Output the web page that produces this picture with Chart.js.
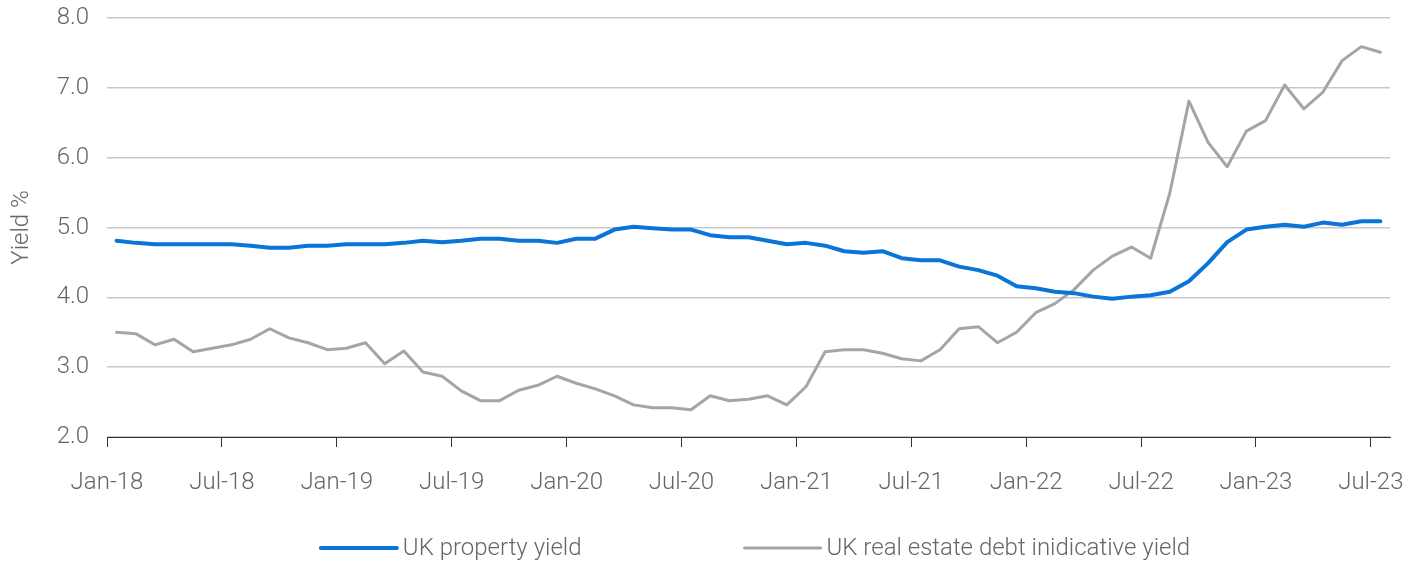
<!DOCTYPE html>
<html>
<head>
<meta charset="utf-8">
<script src="https://cdn.jsdelivr.net/npm/chart.js@4"></script>
<style>
  html, body { margin: 0; padding: 0; background: #fff; }
  #wrap { width: 1419px; height: 563px; }
</style>
</head>
<body>
<div id="wrap"><canvas id="c" width="1419" height="563"></canvas></div>
<script>
// Monthly observations, Jan-18 .. Jul-23
const months = [];
const monNames = ['Jan','Feb','Mar','Apr','May','Jun','Jul','Aug','Sep','Oct','Nov','Dec'];
for (let y = 18; y <= 23; y++) {
  for (let m = 0; m < 12; m++) {
    if (y === 23 && m > 6) break;
    months.push(monNames[m] + '-' + y);
  }
}

const propertyYield = [
  4.81, 4.78, 4.76, 4.76, 4.76, 4.76, 4.76, 4.74, 4.71, 4.71, 4.74, 4.74,
  4.76, 4.76, 4.76, 4.78, 4.81, 4.79, 4.81, 4.84, 4.84, 4.81, 4.81, 4.78,
  4.84, 4.84, 4.97, 5.01, 4.99, 4.97, 4.97, 4.89, 4.86, 4.86, 4.81, 4.76,
  4.78, 4.74, 4.66, 4.64, 4.66, 4.56, 4.53, 4.53, 4.44, 4.39, 4.31, 4.16,
  4.13, 4.08, 4.06, 4.01, 3.98, 4.01, 4.03, 4.08, 4.23, 4.49, 4.79, 4.97,
  5.01, 5.04, 5.01, 5.07, 5.04, 5.09, 5.09
];

const debtYield = [
  3.50, 3.48, 3.32, 3.40, 3.22, 3.27, 3.32, 3.40, 3.55, 3.42, 3.35, 3.25,
  3.27, 3.35, 3.05, 3.23, 2.93, 2.87, 2.66, 2.52, 2.52, 2.67, 2.74, 2.87,
  2.77, 2.69, 2.59, 2.46, 2.42, 2.42, 2.39, 2.59, 2.52, 2.54, 2.59, 2.46,
  2.72, 3.22, 3.25, 3.25, 3.20, 3.12, 3.09, 3.25, 3.55, 3.58, 3.35, 3.50,
  3.78, 3.91, 4.11, 4.39, 4.59, 4.72, 4.56, 5.49, 6.81, 6.22, 5.87, 6.38,
  6.53, 7.04, 6.70, 6.94, 7.39, 7.59, 7.51
];

const xTickLabels = ['Jan-18','Jul-18','Jan-19','Jul-19','Jan-20','Jul-20',
                     'Jan-21','Jul-21','Jan-22','Jul-22','Jan-23','Jul-23'];
const seriesNames = ['UK property yield', 'UK real estate debt inidicative yield'];

const FONT = 'Roboto, "Noto Sans", sans-serif';
const TEXT = '#666666';
const FSIZE = 24;

// Legend drawn beneath the axis, with a wide gap between entries
const bottomLegend = {
  id: 'bottomLegend',
  afterDraw(chart) {
    const ctx = chart.ctx;
    const ds = chart.data.datasets;
    const box = 76, gap = 6, itemGap = 163, y = 548;
    ctx.save();
    ctx.font = '300 ' + FSIZE + 'px ' + FONT;
    ctx.textBaseline = 'middle';
    const widths = ds.map(d => box + gap + ctx.measureText(d.label).width);
    const total = widths.reduce((a, b) => a + b, 0) + itemGap * (ds.length - 1);
    const ca = chart.chartArea;
    let x = (ca.left + ca.right) / 2 + 7 - total / 2;
    ds.forEach((d, i) => {
      ctx.strokeStyle = d.borderColor;
      ctx.lineWidth = d.borderWidth;
      ctx.lineCap = 'round';
      ctx.beginPath();
      ctx.moveTo(x, y);
      ctx.lineTo(x + box, y);
      ctx.stroke();
      ctx.fillStyle = TEXT;
      ctx.fillText(d.label, x + box + gap, y + 1);
      x += widths[i] + itemGap;
    });
    ctx.restore();
  }
};

new Chart(document.getElementById('c'), {
  type: 'line',
  data: {
    datasets: [
      {
        label: seriesNames[0],
        data: propertyYield.map((v, i) => ({ x: i, y: v })),
        borderColor: '#0A74D8',
        borderWidth: 4,
        pointRadius: 0,
        tension: 0,
        borderCapStyle: 'round',
        borderJoinStyle: 'round'
      },
      {
        label: seriesNames[1],
        data: debtYield.map((v, i) => ({ x: i, y: v })),
        borderColor: '#A5A5A5',
        borderWidth: 3,
        pointRadius: 0,
        tension: 0,
        borderCapStyle: 'round',
        borderJoinStyle: 'round'
      }
    ]
  },
  options: {
    responsive: false,
    animation: false,
    layout: { padding: { top: 18, right: 29, bottom: 0, left: 8 } },
    plugins: {
      legend: { display: false },
      tooltip: { enabled: false }
    },
    scales: {
      x: {
        type: 'linear',
        min: -0.5,
        max: months.length - 0.5,
        afterBuildTicks(axis) {
          axis.ticks = xTickLabels.map((_, k) => ({ value: -0.5 + 6 * k }));
        },
        afterFit(axis) {
          axis.height = 126;
          axis.paddingLeft = 0;
          axis.paddingRight = 0;
        },
        grid: {
          drawOnChartArea: false,
          drawTicks: true,
          tickLength: 10,
          color: '#333333',
          lineWidth: 1
        },
        border: { display: true, color: '#333333', width: 1 },
        ticks: {
          autoSkip: false,
          maxRotation: 0,
          padding: 22,
          color: TEXT,
          font: { family: FONT, size: FSIZE, weight: '300' },
          callback: (value, index) => xTickLabels[index]
        }
      },
      y: {
        min: 2,
        max: 8,
        afterFit(axis) {
          axis.width = 99;
          axis.paddingTop = 0;
          axis.paddingBottom = 0;
        },
        grid: { color: '#C8C8C8', lineWidth: 1.5, drawTicks: false },
        border: { display: false },
        ticks: {
          stepSize: 1,
          padding: 18,
          color: TEXT,
          font: { family: FONT, size: FSIZE, weight: '300' },
          callback: v => v.toFixed(1)
        },
        title: {
          display: true,
          text: 'Yield %',
          color: TEXT,
          font: { family: FONT, size: FSIZE, weight: '300' },
          padding: 0
        }
      }
    }
  },
  plugins: [bottomLegend]
});
</script>
</body>
</html>
